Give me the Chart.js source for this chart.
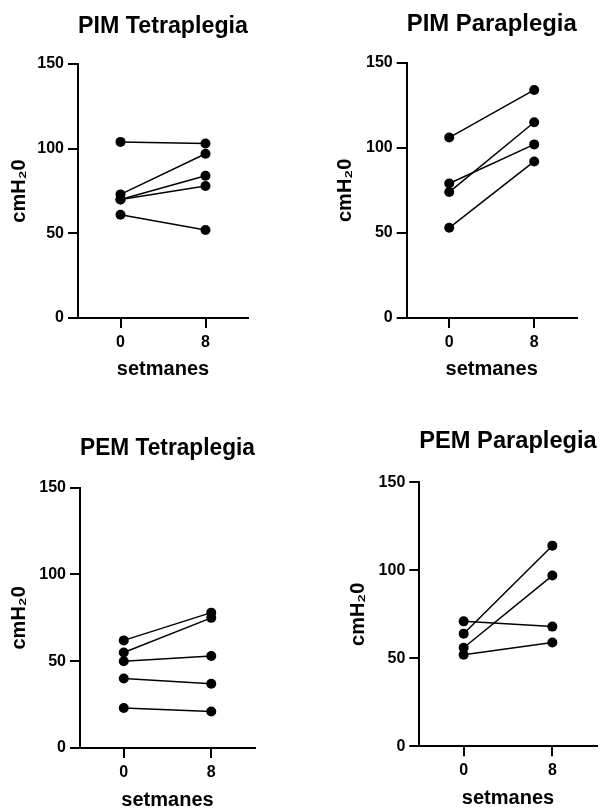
<!DOCTYPE html>
<html>
<head>
<meta charset="utf-8">
<script src="https://cdn.jsdelivr.net/npm/chart.js@4/dist/chart.umd.min.js"></script>
<style>
  html, body { margin: 0; padding: 0; background: #fff; overflow: hidden; }
  #wrap { position: relative; width: 608px; height: 812px; }
  canvas { position: absolute; }
</style>
</head>
<body>
<div id="wrap">
  <canvas id="c0" width="304" height="406" style="left:0;top:0"></canvas>
  <canvas id="c1" width="304" height="406" style="left:304px;top:0"></canvas>
  <canvas id="c2" width="304" height="406" style="left:0;top:406px"></canvas>
  <canvas id="c3" width="304" height="406" style="left:304px;top:406px"></canvas>
</div>
<script>
// ---- data ----
const weeks = [0, 8];
const yTicks = [0, 50, 100, 150];
const panelTitles = ['PIM Tetraplegia', 'PIM Paraplegia', 'PEM Tetraplegia', 'PEM Paraplegia'];
const xTitle = 'setmanes';
const yTitle = 'cmH\u20820';

const pimTetraWeek0 = [104, 73, 70, 70, 61];
const pimTetraWeek8 = [103, 97, 84, 78, 52];
const pimParaWeek0 = [106, 79, 74, 53];
const pimParaWeek8 = [134, 102, 115, 92];
const pemTetraWeek0 = [62, 55, 50, 40, 23];
const pemTetraWeek8 = [78, 75, 53, 37, 21];
const pemParaWeek0 = [71, 64, 56, 52];
const pemParaWeek8 = [68, 114, 97, 59];

const panelData = [
  [pimTetraWeek0, pimTetraWeek8],
  [pimParaWeek0, pimParaWeek8],
  [pemTetraWeek0, pemTetraWeek8],
  [pemParaWeek0, pemParaWeek8]
];

// ---- layout (per panel) ----
const layouts = [
  { pad: {left: 5,  right: 56,   top: 5,    bottom: 20}, yW: 73,   xH: 68,   tTop: 7.1, tBot: 23.1, xtBot: 5 },
  { pad: {left: 27, right: 31.3, top: 2,    bottom: 20}, yW: 75.7, xH: 68,   tTop: 7.5, tBot: 24.4, xtBot: 5 },
  { pad: {left: 5,  right: 49,   top: 20,   bottom: 0},  yW: 75,   xH: 64,   tTop: 7.5, tBot: 25.4, xtBot: 0 },
  { pad: {left: 40, right: 11.3, top: 13.3, bottom: 0},  yW: 75.3, xH: 65.7, tTop: 7.5, tBot: 26.7, xtBot: 2 }
];

const FONT = "'Liberation Sans', Arial, Helvetica, sans-serif";

panelData.forEach((pd, i) => {
  const [w0, w8] = pd;
  const L = layouts[i];
  const datasets = w0.map((v, k) => ({
    data: [{x: weeks[0], y: v}, {x: weeks[1], y: w8[k]}],
    borderColor: '#000',
    backgroundColor: '#000',
    borderWidth: 1.5,
    pointRadius: 5,
    pointBackgroundColor: '#000',
    pointBorderColor: '#000',
    pointBorderWidth: 0,
    showLine: true,
    clip: false
  }));
  new Chart(document.getElementById('c' + i), {
    type: 'scatter',
    data: { datasets },
    options: {
      responsive: false,
      animation: false,
      devicePixelRatio: 1,
      layout: { padding: L.pad },
      plugins: {
        legend: { display: false },
        tooltip: { enabled: false },
        title: {
          display: true,
          text: panelTitles[i],
          fullSize: false,
          color: '#000',
          font: { family: FONT, size: 24, weight: 'bold' },
          padding: { top: L.tTop, bottom: L.tBot }
        }
      },
      scales: {
        x: {
          type: 'linear',
          min: -4,
          max: 12,
          afterBuildTicks: s => { s.ticks = weeks.map(v => ({ value: v })); },
          afterFit: s => { s.height = L.xH; },
          border: { display: true, color: '#000', width: 2 },
          grid: { drawOnChartArea: false, drawTicks: true, tickLength: 10, color: '#000', lineWidth: 2 },
          ticks: { color: '#000', padding: 5, font: { family: FONT, size: 16, weight: 'bold' } },
          title: {
            display: true, text: xTitle, color: '#000',
            font: { family: FONT, size: 20, weight: 'bold' },
            padding: { top: 0, bottom: L.xtBot }
          }
        },
        y: {
          min: 0,
          max: 150,
          afterBuildTicks: s => { s.ticks = yTicks.map(v => ({ value: v })); },
          afterFit: s => { s.width = L.yW; },
          border: { display: true, color: '#000', width: 2 },
          grid: { drawOnChartArea: false, drawTicks: true, tickLength: 10, color: '#000', lineWidth: 2 },
          ticks: { color: '#000', padding: 4, font: { family: FONT, size: 16, weight: 'bold' } },
          title: {
            display: true, text: yTitle, color: '#000',
            font: { family: FONT, size: 20, weight: 'bold' },
            padding: { top: 2, bottom: 0 }
          }
        }
      }
    }
  });
});
</script>
</body>
</html>
